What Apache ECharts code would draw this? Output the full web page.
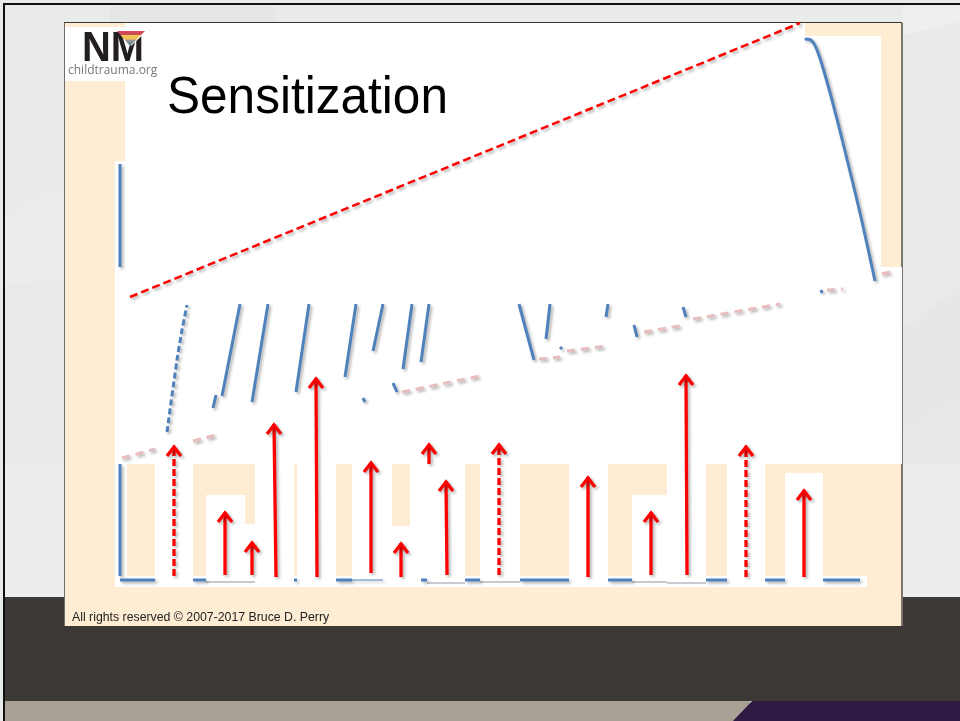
<!DOCTYPE html>
<html>
<head>
<meta charset="utf-8">
<title>Sensitization</title>
<script src="https://cdn.jsdelivr.net/npm/echarts@6/dist/echarts.min.js"></script>
<style>
html, body { margin: 0; padding: 0; background: #e9ebea; }
#chart { width: 960px; height: 721px; }
</style>
</head>
<body>
<div id="chart"></div>
<script>
const sensitizedLine = [[10, 283], [680, 557]];

const fadedLineParts = [
    [[2, 122], [35, 131]],
    [[73, 139], [100, 146]],
    [[282, 188], [360, 204]],
    [[419, 221], [440, 223]],
    [[447, 229], [487, 234]],
    [[524, 248], [565, 255]],
    [[573, 261], [660, 276]],
    [[707, 290], [723, 291]],
    [[762, 306], [770, 308]],
];

const dashedRise = [[47, 148], [57, 220], [62, 250], [67, 275]];

const responseParts = [
    [[93, 172], [96, 185]],
    [[102, 184], [120, 276]],
    [[132, 178], [148, 276]],
    [[176, 188], [189, 276]],
    [[225, 203], [236, 276]],
    [[253, 229], [263, 276]],
    [[283, 211], [292, 276]],
    [[301, 218], [309, 276]],
    [[273, 197], [277, 188]],
    [[243, 182], [245, 178]],
    [[399, 276], [414, 220]],
    [[426, 241], [430, 276]],
    [[440, 233], [442, 231]],
    [[486, 263], [488, 276]],
    [[514, 255], [517, 243]],
    [[563, 273], [566, 263]],
    [[701, 290], [702, 287]],
    [[685, 540], [687, 541], [692, 539], [697, 530], [703, 512], [712, 480], [723, 437], [740, 367], [755, 299]],
];

const axisParts = [
    [[0, 416], [0, 313]],
    [[0, 116], [0, 4]],
    [[0, 0], [35, 0]],
    [[73, 0], [86, 0]],
    [[174, 0], [177, 0]],
    [[216, 0], [232, 0]],
    [[301, 0], [307, 0]],
    [[345, 0], [360, 0]],
    [[400, 0], [449, 0]],
    [[488, 0], [512, 0]],
    [[586, 0], [607, 0]],
    [[645, 0], [665, 0]],
    [[703, 0], [740, 0]],
];
const thinAxisPart = [[232, 0], [263, 0]];

// [x foot, y foot, x tip, y tip]
const solidArrows = [
    [105, 5, 105, 68],
    [132, 5, 132, 38],
    [156, 3, 154, 156],
    [197, 3, 196, 202],
    [251, 7, 251, 118],
    [281, 3, 281, 37],
    [327, 5, 326, 99],
    [468, 3, 468, 103],
    [531, 5, 531, 68],
    [567, 5, 566, 205],
    [684, 3, 684, 90],
];
const dashedArrows = [
    [54, 4, 54, 134],
    [379, 5, 379, 136],
    [626, 3, 626, 134],
];
const clippedArrows = [
    [309, 116, 309, 136],
];

const titleText = 'Sensitization';
const footerText = 'All rights reserved © 2007-2017 Bruce D. Perry';
const logoText = 'NM';
const logoSubText = 'childtrauma.org';

const BLUE = '#4f81bd';
const RED = '#ff0000';
const PINK = '#e9bdbd';
const BEIGE = '#feedd3';

const joinParts = (parts) => parts.flatMap((part, i) => (i ? [[null, null], ...part] : part));

const lineShadow = {
    shadowColor: 'rgba(0,0,0,0.3)',
    shadowBlur: 3,
    shadowOffsetX: 2,
    shadowOffsetY: 2,
};

const rect = (x, y, width, height, fill, z) => ({
    type: 'rect',
    z: z || 0,
    silent: true,
    shape: { x, y, width, height },
    style: { fill },
});

const poly = (points, fill, z) => ({
    type: 'polygon',
    z: z || 0,
    silent: true,
    shape: { points },
    style: { fill },
});

// white blocks left on the slide: [left, top, right, bottom]
const whiteBlocks = [
    [65, 27, 159, 81],
    [125, 23, 805, 300],
    [805, 36, 881, 267],
    [115, 161, 125, 587],
    [115, 267, 902, 464],
    [115, 464, 127, 587],
    [115, 576, 867, 587],
    [155, 464, 193, 583],
    [206, 495, 245, 581],
    [245, 524, 265, 581],
    [255, 464, 294, 584],
    [297, 464, 336, 584],
    [352, 464, 392, 580],
    [383, 526, 421, 584],
    [410, 464, 465, 582],
    [480, 464, 520, 581],
    [569, 464, 608, 584],
    [632, 495, 667, 581],
    [667, 464, 706, 582],
    [727, 464, 765, 584],
    [785, 473, 823, 584],
];

// grey remains of the axis shadow under some blocks: [left, right, y]
const shadowStubs = [
    [206, 255, 581],
    [427, 465, 582],
    [480, 520, 581],
    [632, 667, 581],
    [667, 706, 582],
];

const slideBackground = [
    rect(0, 0, 960, 721, '#e9ebea'),
    rect(110, 5, 165, 17, '#e5e7e6'),
    poly([[903, 35], [960, 22], [960, 5], [903, 5]], '#eef0ef'),
    poly([[903, 330], [960, 285], [960, 400], [903, 435]], '#e6e7e7'),
    rect(903, 465, 57, 132, '#ededed'),
    poly([[903, 435], [960, 400], [960, 465], [903, 465]], '#e8e9e9'),
    rect(5, 465, 59, 132, '#ededed'),
    poly([[5, 215], [42, 195], [64, 190], [64, 280], [5, 285]], '#ebedec'),
    rect(5, 597, 955, 104, '#3c3835'),
    rect(5, 701, 745, 20, '#a9a096'),
    poly([[733, 721], [752, 701], [960, 701], [960, 721]], '#2d1a42'),
    rect(3, 3, 957, 2, '#111111'),
    rect(3, 3, 2, 718, '#111111'),
    rect(64, 22, 838, 605, '#3a3632'),
    rect(64, 23, 1, 603, '#6e6e6e'),
    rect(65, 23, 836, 603, BEIGE),
    rect(901, 23, 2, 603, '#7b756c'),
    ...whiteBlocks.map(([l, t, r, b]) => rect(l, t, r - l, b - t, '#ffffff', 1)),
    ...shadowStubs.map(([l, r, y]) => rect(l, y, r - l, 2, '#c9c9d1', 1)),
];

const logo = [
    {
        type: 'text', z: 3, silent: true, x: 82, y: 28, scaleX: 0.95,
        style: { text: logoText, font: 'bold 42px "Liberation Sans"', fill: '#231f20' },
    },
    poly([[117, 29], [149, 29], [131, 46]], '#ffffff', 4),
    {
        type: 'polygon', z: 5, silent: true,
        shape: { points: [[117, 31], [145, 31], [130, 46]] },
        style: {
            fill: new echarts.graphic.LinearGradient(0, 0, 0, 1, [
                { offset: 0, color: '#cf4a55' },
                { offset: 0.25, color: '#cf4a55' },
                { offset: 0.3, color: '#f1cb58' },
                { offset: 0.55, color: '#f1b85a' },
                { offset: 0.6, color: '#9a9a9a' },
                { offset: 1, color: '#5d7f8f' },
            ]),
        },
    },
    {
        type: 'text', z: 3, silent: true, x: 68, y: 65,
        style: { text: logoSubText, font: '12px "Open Sans"', fill: '#777879' },
    },
];

const labels = [
    {
        type: 'text', z: 3, silent: true, x: 167, y: 73, scaleX: 0.953,
        style: { text: titleText, font: '52px "Liberation Sans"', fill: '#000000' },
    },
    {
        type: 'text', z: 3, silent: true, x: 72, y: 612,
        style: { text: footerText, font: '12.3px "Liberation Sans"', fill: '#222222' },
    },
];

const renderArrow = (params, api) => {
    const foot = api.coord([api.value(0), api.value(1)]);
    const tip = api.coord([api.value(2), api.value(3)]);
    return {
        type: 'group',
        children: [
            {
                type: 'line',
                shape: { x1: foot[0], y1: foot[1], x2: tip[0], y2: tip[1] },
                style: { stroke: RED, lineWidth: 3.3, lineDash: params.seriesName === 'dashed' ? [7, 3] : null, ...lineShadow },
            },
            {
                type: 'polyline',
                shape: { points: [[tip[0] - 7, tip[1] + 10], [tip[0], tip[1] + 1], [tip[0] + 7, tip[1] + 10]] },
                style: { fill: 'none', stroke: RED, lineWidth: 3.3, ...lineShadow },
            },
        ],
    };
};

const arrowSeries = (name, data) => ({
    name,
    type: 'custom',
    z: 6,
    silent: true,
    clip: false,
    encode: { x: [0, 2], y: [1, 3] },
    renderItem: renderArrow,
    data,
});

const lineSeries = (name, data, color, width, dash, smooth) => ({
    name,
    type: 'line',
    z: 5,
    silent: true,
    showSymbol: false,
    connectNulls: false,
    smooth: smooth || false,
    clip: false,
    lineStyle: { color, width, type: dash || 'solid', ...lineShadow },
    data,
});

const chart = echarts.init(document.getElementById('chart'), null, { renderer: 'canvas' });

chart.setOption({
    animation: false,
    backgroundColor: 'transparent',
    grid: { left: 120, top: 20, width: 780, height: 560 },
    xAxis: { type: 'value', min: 0, max: 780, show: false },
    yAxis: { type: 'value', min: 0, max: 560, show: false },
    graphic: [...slideBackground, ...logo, ...labels],
    series: [
        lineSeries('axis', joinParts(axisParts), BLUE, 3),
        lineSeries('thin axis', thinAxisPart, BLUE, 1),
        lineSeries('response', joinParts(responseParts), BLUE, 3, null, 0.3),
        lineSeries('dashed rise', dashedRise, BLUE, 3, [6, 3], 0.3),
        lineSeries('faded', joinParts(fadedLineParts), PINK, 3, [8, 6]),
        lineSeries('sensitized', sensitizedLine, RED, 2.5, [8, 4]),
        arrowSeries('solid', solidArrows),
        arrowSeries('dashed', dashedArrows),
        arrowSeries('clipped', clippedArrows),
    ],
});
</script>
</body>
</html>
